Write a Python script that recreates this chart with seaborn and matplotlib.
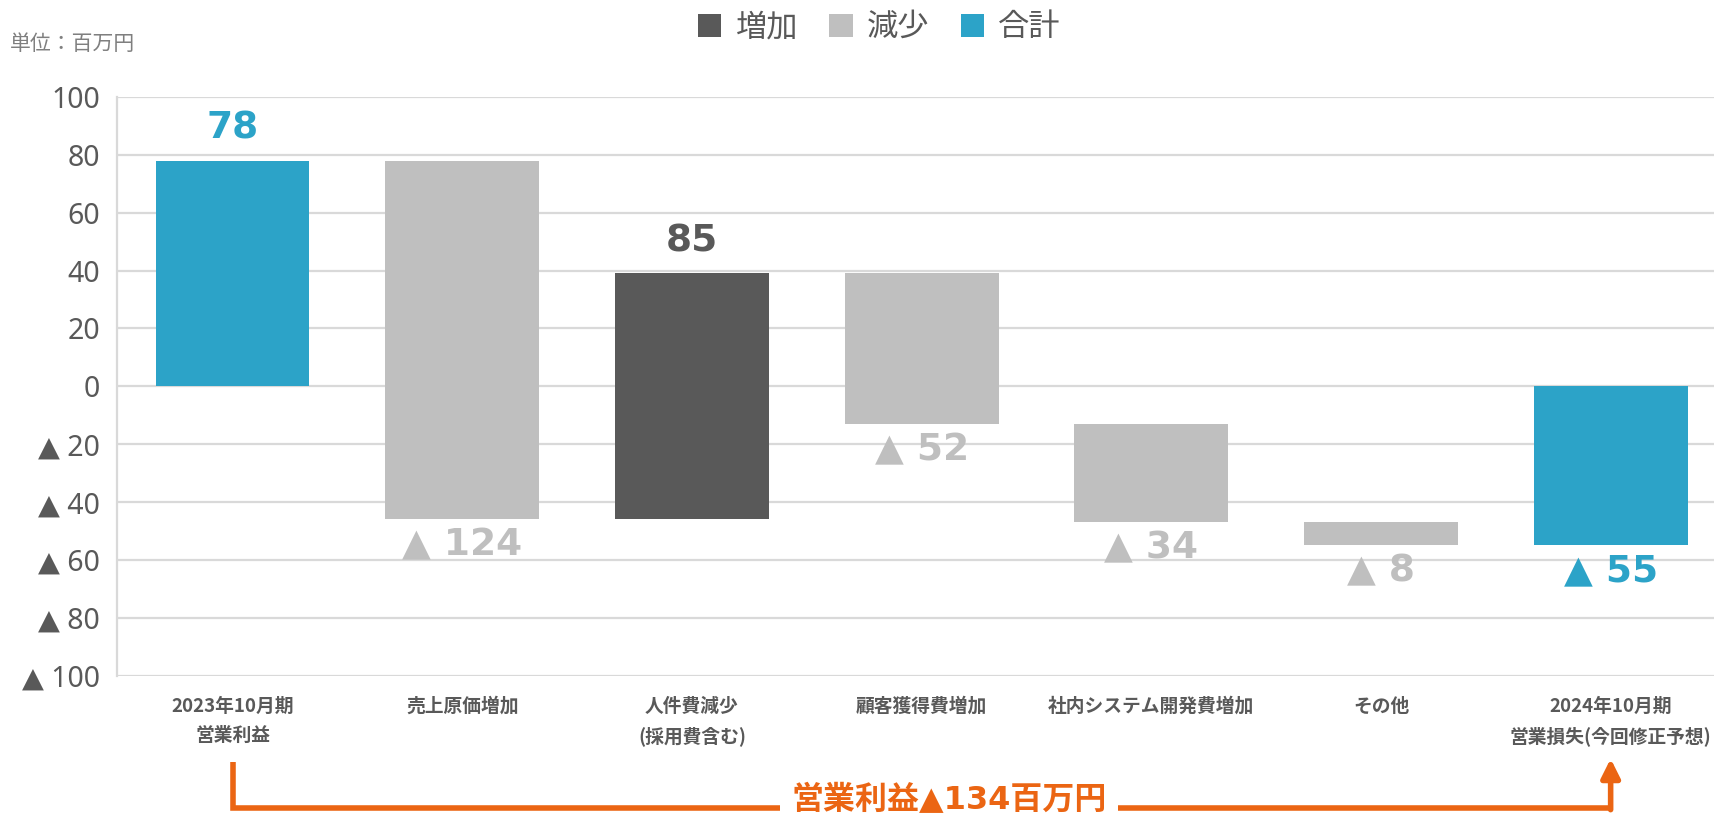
import numpy as np
import pandas as pd
import matplotlib
matplotlib.use('Agg')
import matplotlib.pyplot as plt
import matplotlib.transforms as mtransforms
import seaborn as sns
from matplotlib.patches import Patch

# chart data
categories = ['2023年10月期\n営業利益', '売上原価増加', '人件費減少\n(採用費含む)', '顧客獲得費増加',
              '社内システム開発費増加', 'その他', '2024年10月期\n営業損失(今回修正予想)']
changes = [78, -124, 85, -52, -34, -8, -55]
kinds = ['合計', '減少', '増加', '減少', '減少', '減少', '合計']
yticks = [100, 80, 60, 40, 20, 0, -20, -40, -60, -80, -100]
ytick_labels = ['100', '80', '60', '40', '20', '0', '▲ 20', '▲ 40', '▲ 60', '▲ 80', '▲ 100']
legend_labels = ['増加', '減少', '合計']
note_text = '営業利益▲134百万円'
unit_text = '単位：百万円'

colors = {'増加': '#595959', '減少': '#BFBFBF', '合計': '#2CA3C8'}
orange = '#EB6513'
text_gray = '#595959'

# waterfall bottoms
bottoms = []
running = 0
for c, k in zip(changes, kinds):
    if k == '合計':
        bottoms.append(0)
        running = c
    else:
        bottoms.append(running)
        running += c

df = pd.DataFrame({'cat': categories, 'change': changes, 'kind': kinds, 'bottom': bottoms})

sns.set_theme(style='white')
plt.rcParams['font.family'] = ['Noto Sans CJK JP', 'DejaVu Sans']

fig = plt.figure(figsize=(17.14, 8.22), dpi=100)
ax = fig.add_axes([0.068, 0.178, 0.932, 0.704])

sns.barplot(data=df, x='cat', y='change', hue='cat', palette=[colors[k] for k in kinds],
            width=0.67, saturation=1, legend=False, ax=ax)
for patch, b in zip(ax.patches, df['bottom']):
    patch.set_y(b)
    patch.set_linewidth(0)

# value labels
for i, row in df.iterrows():
    col = colors[row['kind']]
    if row['change'] > 0:
        top = row['bottom'] + row['change']
        ax.text(i, top + 11, str(row['change']), ha='center', va='center',
                fontsize=27, fontweight='bold', color=col, family='DejaVu Sans')
    else:
        low = row['bottom'] + row['change']
        ax.text(i, low - 9, '▲ ' + str(abs(row['change'])), ha='center', va='center',
                fontsize=27, fontweight='bold', color=col, family='DejaVu Sans')

ax.set_ylim(-100, 100)
ax.set_xlim(-0.505, 6.45)
ax.set_yticks(yticks)
ax.set_yticklabels(ytick_labels, family=['Noto Sans', 'DejaVu Sans'], fontsize=20.5, color=text_gray)
ax.set_xticks(range(len(categories)))
ax.set_xticklabels(categories, fontsize=13.5, fontweight='bold', color=text_gray, linespacing=1.7)
ax.tick_params(axis='both', length=0)
ax.tick_params(axis='x', pad=15)
ax.tick_params(axis='y', pad=12)
ax.set_xlabel('')
ax.set_ylabel('')
ax.yaxis.grid(True, color='#D9D9D9', lw=1.6)
ax.set_axisbelow(True)
for s in ['top', 'right', 'bottom']:
    ax.spines[s].set_visible(False)
ax.spines['left'].set_color('#D9D9D9')
ax.spines['left'].set_linewidth(1.6)

# bracket annotation below the axis (x in data, y in figure fraction)
tr = mtransforms.blended_transform_factory(ax.transData, fig.transFigure)
line_y = 0.017
ax.plot([0, 0, 6], [0.073, line_y, line_y], transform=tr, color=orange, lw=4,
        clip_on=False, solid_joinstyle='miter', solid_capstyle='butt')
ax.annotate('', xy=(6, 0.077), xytext=(6, line_y - 0.002), xycoords=tr, textcoords=tr,
            arrowprops=dict(arrowstyle='-|>', color=orange, lw=4, mutation_scale=28,
                            shrinkA=0, shrinkB=0), annotation_clip=False)
ax.text(3.12, 0.026, note_text, transform=tr, ha='center', va='center', fontsize=23,
        fontweight='bold', color=orange, family=['DejaVu Sans', 'Noto Sans CJK JP'],
        bbox=dict(boxstyle='square,pad=0.35', fc='white', ec='none'))

# legend and unit
handles = [Patch(facecolor=colors[k], edgecolor='none') for k in legend_labels]
leg = fig.legend(handles, legend_labels, loc='center', bbox_to_anchor=(0.513, 0.967), ncol=3,
                 frameon=False, fontsize=22.5, handlelength=0.75, handleheight=0.75,
                 handletextpad=0.45, columnspacing=1.0)
for t in leg.get_texts():
    t.set_color(text_gray)
fig.text(0.006, 0.946, unit_text, ha='left', va='center', fontsize=15, color='#7F7F7F')

fig.savefig('out.png', dpi=100)
